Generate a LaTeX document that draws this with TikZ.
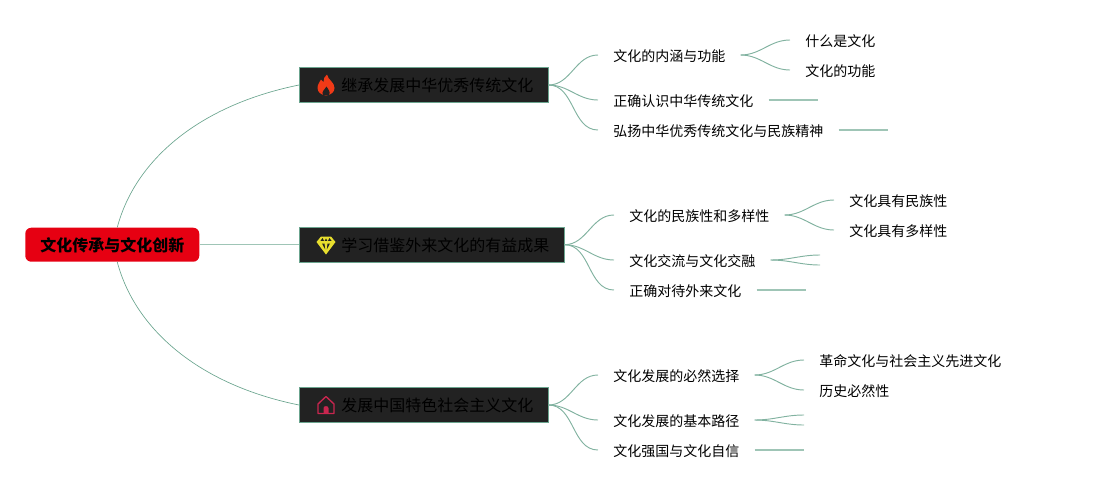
\documentclass[tikz,border=0pt]{standalone}
\usepackage{fontspec}
\setmainfont{Noto Sans CJK SC}
\usepackage{xcolor}
\usetikzlibrary{arrows.meta, calc}
\definecolor{rootred}{HTML}{E60012}
\definecolor{boxdark}{HTML}{222222}
\definecolor{linegreen}{HTML}{6BA58F}
\definecolor{flamered}{HTML}{F03A17}
\definecolor{gemyellow}{HTML}{E8DF2E}
\definecolor{housered}{HTML}{C9264F}
\tikzset{
    rootbox/.style={draw=none, fill=rootred, rounded corners=4.5pt, anchor=west, inner xsep=11.25pt,
        inner ysep=0pt, minimum height=25.5pt, font=\fontsize{12}{12}\bfseries, text height=12.8pt, text depth=2pt},
    branchbox/.style={draw=linegreen, line width=0.6pt, fill=boxdark, anchor=west, inner xsep=11pt,
        inner ysep=0pt, minimum height=26.25pt, font=\fontsize{12}{12}\selectfont, text height=12pt, text depth=2pt},
    leaf/.style={anchor=west, inner xsep=11.25pt, inner ysep=0pt, minimum height=15pt,
        font=\fontsize{10.5}{10.5}\selectfont, text height=11.5pt, text depth=2pt},
    conn/.style={draw=linegreen, line width=0.5pt},
    sconn/.style={draw=linegreen!85, line width=0.7pt, out=0, in=180},
    stub/.style={draw=linegreen!65, line width=1.1pt},
    flame/.pic={
        \fill[flamered] (1,-10.5) .. controls (2,-5) and (8.5,-3) .. (8.5,3)
            .. controls (8.5,7) and (5,10) .. (0,10.5) .. controls (-5,10) and (-8.5,7) .. (-8.5,3)
            .. controls (-8.5,-1) and (-6,-3) .. (-5,-5.5) .. controls (-4,-4) and (-3.5,-3.5) .. (-2.5,-3)
            .. controls (-3,-6) and (-1,-9) .. (1,-10.5) -- cycle;
        \fill[boxdark] (-3,10) .. controls (-5,7) and (-1,4) .. (0.5,1.5)
            .. controls (2,4) and (5,7) .. (3,10) -- cycle;
    },
    gem/.pic={
        \fill[gemyellow, line join=round] (-5,-8.5) -- (5,-8.5) -- (9.5,-3) -- (0,9.5) -- (-9.5,-3) -- cycle;
        \fill[boxdark] (-4,-1.5) -- (-1.5,-1.5) -- (-0.8,4.5) -- cycle;
        \fill[boxdark] (4,-1.5) -- (1.5,-1.5) -- (0.8,4.5) -- cycle;
        \fill[boxdark] (-3.5,-7) -- (-5.5,-4.2) -- (-2,-4.2) -- cycle;
        \fill[boxdark] (3.5,-7) -- (5.5,-4.2) -- (2,-4.2) -- cycle;
        \fill[boxdark] (0,-6.5) -- (-1.3,-4.2) -- (1.3,-4.2) -- cycle;
    },
    house/.pic={
        \draw[housered, line width=1pt, line join=round]
            (-8,-1) -- (0,-8.5) -- (8,-1) -- (8,8.5) -- (-8,8.5) -- cycle;
        \fill[housered] (-2.5,8.5) -- (-2.5,3) .. controls (-2.5,0.5) and (2.5,0.5) .. (2.5,3) -- (2.5,8.5) -- cycle;
    }
}

\begin{document}
\begin{tikzpicture}[x=0.75pt, y=-0.75pt]
    \useasboundingbox (0,0) rectangle (1093,490);

    \node[rootbox] (root) at (25,244.7) {文化传承与文化创新};

    \node[branchbox] (heritage) at (299,85) {\hspace*{20.5pt}继承发展中华优秀传统文化};
    \node[branchbox] (foreign) at (299,244.7) {\hspace*{20.5pt}学习借鉴外来文化的有益成果};
    \node[branchbox] (socialist) at (299,405) {\hspace*{20.5pt}发展中国特色社会主义文化};

    \pic at (326,85) {flame};
    \pic at (326,245) {gem};
    \pic at (326,405) {house};

    % first branch
    \node[leaf] (meaning) at (598,55) {文化的内涵与功能};
    \node[leaf] (correct) at (598,100) {正确认识中华传统文化};
    \node[leaf] (spirit) at (598,130) {弘扬中华优秀传统文化与民族精神};
    \node[leaf] (what) at (790,40) {什么是文化};
    \node[leaf] (function) at (790,70) {文化的功能};
    \coordinate (correctend) at (818,100);
    \coordinate (spiritend) at (888,130);

    % second branch
    \node[leaf] (diverse) at (614,215) {文化的民族性和多样性};
    \node[leaf] (exchange) at (614,260) {文化交流与文化交融};
    \node[leaf] (attitude) at (614,290) {正确对待外来文化};
    \node[leaf] (national) at (834,200) {文化具有民族性};
    \node[leaf] (variety) at (834,230) {文化具有多样性};
    \coordinate (exchangea) at (820,255);
    \coordinate (exchangeb) at (820,265);
    \coordinate (attitudeend) at (806,290);

    % third branch
    \node[leaf] (choice) at (598,375) {文化发展的必然选择};
    \node[leaf] (path) at (598,420) {文化发展的基本路径};
    \node[leaf] (confidence) at (598,450) {文化强国与文化自信};
    \node[leaf] (advanced) at (804,360) {革命文化与社会主义先进文化};
    \node[leaf] (history) at (804,390) {历史必然性};
    \coordinate (patha) at (804,415);
    \coordinate (pathb) at (804,425);
    \coordinate (confidenceend) at (804,450);

    \draw[conn] ([xshift=3.75pt]root.north) .. controls +(18,-68) and (200,105) .. (heritage.west);
    \draw[stub] (root.east) -- (foreign.west);
    \draw[conn] ([xshift=3.75pt]root.south) .. controls +(18,68) and (200,385) .. (socialist.west);

    \draw[sconn] (heritage.east) to (meaning.west);
    \draw[sconn] (heritage.east) to (correct.west);
    \draw[sconn] (heritage.east) to (spirit.west);
    \draw[sconn] (meaning.east) to (what.west);
    \draw[sconn] (meaning.east) to (function.west);
    \draw[stub] (correct.east) -- (correctend);
    \draw[stub] (spirit.east) -- (spiritend);

    \draw[sconn] (foreign.east) to (diverse.west);
    \draw[sconn] (foreign.east) to (exchange.west);
    \draw[sconn] (foreign.east) to (attitude.west);
    \draw[sconn] (diverse.east) to (national.west);
    \draw[sconn] (diverse.east) to (variety.west);
    \draw[sconn] (exchange.east) to (exchangea);
    \draw[sconn] (exchange.east) to (exchangeb);
    \draw[stub] (attitude.east) -- (attitudeend);

    \draw[sconn] (socialist.east) to (choice.west);
    \draw[sconn] (socialist.east) to (path.west);
    \draw[sconn] (socialist.east) to (confidence.west);
    \draw[sconn] (choice.east) to (advanced.west);
    \draw[sconn] (choice.east) to (history.west);
    \draw[sconn] (path.east) to (patha);
    \draw[sconn] (path.east) to (pathb);
    \draw[stub] (confidence.east) -- (confidenceend);
\end{tikzpicture}
\end{document}
